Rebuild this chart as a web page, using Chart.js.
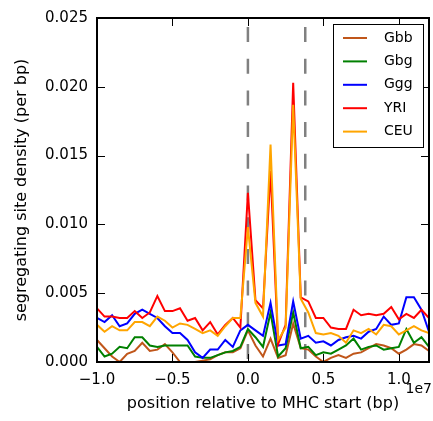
<!DOCTYPE html>
<html>
<head>
<meta charset="utf-8">
<script src="https://cdn.jsdelivr.net/npm/chart.js@4"></script>
<style>
  html, body { margin: 0; padding: 0; background: #fff; }
  #wrap { width: 433px; height: 421px; }
</style>
</head>
<body>
<div id="wrap"><canvas id="grafico" width="433" height="421"></canvas></div>
<script>
// posições (em unidades de 1e7 bp relativas ao início do MHC)
const posicoes = [
  -1.00, -0.95, -0.90, -0.85, -0.80, -0.75, -0.70, -0.65, -0.60, -0.55,
  -0.50, -0.45, -0.40, -0.35, -0.30, -0.25, -0.20, -0.15, -0.10, -0.05,
   0.00,  0.05,  0.10,  0.15,  0.20,  0.25,  0.30,  0.35,  0.40,  0.45,
   0.50,  0.55,  0.60,  0.65,  0.70,  0.75,  0.80,  0.85,  0.90,  0.95,
   1.00,  1.05,  1.10,  1.15,  1.20
];

const gbb = [
  0.0016, 0.0010, 0.0004, 0.0000, 0.0006, 0.0008, 0.0014, 0.0008, 0.0009, 0.0013,
  0.0007, 0.0000, 0.0000, 0.0000, 0.0001, 0.0002, 0.0005, 0.0007, 0.0007, 0.0010,
  0.0023, 0.0012, 0.0004, 0.0017, 0.0003, 0.0005, 0.0028, 0.0010, 0.0009, 0.0004,
  0.0000, 0.0003, 0.0005, 0.0003, 0.0006, 0.0007, 0.0010, 0.0013, 0.0012, 0.0010,
  0.0006, 0.0009, 0.0013, 0.0012, 0.0008
];
const gbg = [
  0.0011, 0.0004, 0.0006, 0.0011, 0.0010, 0.0018, 0.0018, 0.0012, 0.0011, 0.0012,
  0.0012, 0.0012, 0.0012, 0.0004, 0.0003, 0.0003, 0.0005, 0.0007, 0.0008, 0.0011,
  0.0024, 0.0018, 0.0011, 0.0036, 0.0004, 0.0010, 0.0036, 0.0010, 0.0011, 0.0005,
  0.0007, 0.0006, 0.0009, 0.0012, 0.0017, 0.0009, 0.0011, 0.0012, 0.0009, 0.0010,
  0.0011, 0.0024, 0.0014, 0.0018, 0.0011
];
const ggg = [
  0.0032, 0.0029, 0.0034, 0.0026, 0.0028, 0.0035, 0.0038, 0.0035, 0.0032, 0.0026,
  0.0021, 0.0021, 0.0016, 0.0007, 0.0003, 0.0009, 0.0009, 0.0016, 0.0011, 0.0023,
  0.0027, 0.0023, 0.0019, 0.0043, 0.0012, 0.0013, 0.0044, 0.0017, 0.0019, 0.0014,
  0.0015, 0.0012, 0.0016, 0.0018, 0.0019, 0.0017, 0.0022, 0.0024, 0.0033, 0.0027,
  0.0028, 0.0047, 0.0047, 0.0038, 0.0022
];
const yri = [
  0.0039, 0.0033, 0.0033, 0.0032, 0.0032, 0.0037, 0.0032, 0.0036, 0.0048, 0.0037,
  0.0037, 0.0039, 0.0030, 0.0032, 0.0023, 0.0029, 0.0020, 0.0027, 0.0032, 0.0025,
  0.0123, 0.0045, 0.0039, 0.0139, 0.0013, 0.0027, 0.0203, 0.0047, 0.0044, 0.0032,
  0.0032, 0.0025, 0.0024, 0.0024, 0.0038, 0.0034, 0.0035, 0.0034, 0.0035, 0.0040,
  0.0031, 0.0035, 0.0032, 0.0038, 0.0032
];
const ceu = [
  0.0027, 0.0022, 0.0026, 0.0023, 0.0023, 0.0029, 0.0029, 0.0026, 0.0033, 0.0030,
  0.0025, 0.0028, 0.0027, 0.0024, 0.0021, 0.0023, 0.0019, 0.0026, 0.0032, 0.0032,
  0.0098, 0.0043, 0.0033, 0.0158, 0.0016, 0.0025, 0.0187, 0.0046, 0.0036, 0.0021,
  0.0020, 0.0021, 0.0019, 0.0014, 0.0023, 0.0021, 0.0024, 0.0020, 0.0027, 0.0026,
  0.0020, 0.0023, 0.0026, 0.0023, 0.0021
];

const nomesSeries = ['Gbb', 'Gbg', 'Ggg', 'YRI', 'CEU'];
const coresSeries = ['#c0561a', '#008000', '#0000ff', '#ff0000', '#ffa500'];
const limitesMHC = [0, 0.38];          // linhas tracejadas
const xTicks = [-1.0, -0.5, 0.0, 0.5, 1.0];
const yTicks = [0.000, 0.005, 0.010, 0.015, 0.020, 0.025];
const escalaX = '1e7';

const FONTE = 'DejaVu Sans';

const seriesValores = [gbb, gbg, ggg, yri, ceu];

const datasets = seriesValores.map((vals, i) => ({
  label: nomesSeries[i],
  data: posicoes.map((p, j) => ({ x: p, y: vals[j] })),
  borderColor: coresSeries[i],
  backgroundColor: coresSeries[i],
  borderWidth: 2,
  pointRadius: 0,
  tension: 0,
  fill: false,
  order: nomesSeries.length - i + 1
}));

limitesMHC.forEach(x => {
  datasets.push({
    label: '_mhc',
    data: [{ x: x, y: yTicks[0] }, { x: x, y: yTicks[yTicks.length - 1] }],
    borderColor: '#808080',
    borderWidth: 2.5,
    borderDash: [15, 16.7],
    borderDashOffset: 28.7,
    pointRadius: 0,
    fill: false,
    order: 10
  });
});

// moldura, ticks para dentro, legenda e texto "1e7"
const molduraPlugin = {
  id: 'moldura',
  afterDraw(chart) {
    const { ctx, chartArea: a, scales } = chart;
    ctx.save();
    ctx.strokeStyle = '#000';
    ctx.lineWidth = 1;
    const tam = 8;
    xTicks.forEach(v => {
      const px = Math.round(scales.x.getPixelForValue(v)) + 0.5;
      ctx.beginPath();
      ctx.moveTo(px, a.bottom); ctx.lineTo(px, a.bottom - tam);
      ctx.moveTo(px, a.top); ctx.lineTo(px, a.top + tam);
      ctx.stroke();
    });
    yTicks.forEach(v => {
      const py = Math.round(scales.y.getPixelForValue(v)) + 0.5;
      ctx.beginPath();
      ctx.moveTo(a.left, py); ctx.lineTo(a.left + tam, py);
      ctx.moveTo(a.right, py); ctx.lineTo(a.right - tam, py);
      ctx.stroke();
    });
    ctx.lineWidth = 2;
    ctx.strokeRect(a.left, a.top, a.right - a.left, a.bottom - a.top);

    // legenda
    const lx = 333, ly = 24, lw = 90, lh = 123;
    ctx.fillStyle = '#fff';
    ctx.fillRect(lx, ly, lw, lh);
    ctx.lineWidth = 1;
    ctx.strokeRect(lx + 0.5, ly + 0.5, lw, lh);
    ctx.font = '14px "' + FONTE + '"';
    ctx.textBaseline = 'middle';
    ctx.textAlign = 'left';
    nomesSeries.forEach((nome, i) => {
      const y = ly + 14 + i * 23.4;
      ctx.strokeStyle = coresSeries[i];
      ctx.lineWidth = 2;
      ctx.beginPath();
      ctx.moveTo(lx + 10, y); ctx.lineTo(lx + 34, y);
      ctx.stroke();
      ctx.fillStyle = '#000';
      ctx.fillText(nome, lx + 51, y);
    });

    ctx.font = '14px "' + FONTE + '"';
    ctx.textAlign = 'right';
    ctx.fillText(escalaX, 432, 389);
    ctx.restore();
  }
};

const ctx = document.getElementById('grafico').getContext('2d');
new Chart(ctx, {
  type: 'line',
  data: { datasets },
  options: {
    responsive: false,
    animation: false,
    events: [],
    layout: { padding: { left: 0, top: 16, right: 4, bottom: 0 } },
    plugins: {
      legend: { display: false },
      tooltip: { enabled: false }
    },
    scales: {
      x: {
        type: 'linear',
        min: -1.0,
        max: 1.2,
        afterBuildTicks: s => { s.ticks = xTicks.map(v => ({ value: v })); },
        afterFit: s => { s.height = 59; },
        grid: { display: false, drawTicks: false },
        border: { display: false },
        ticks: {
          color: '#000',
          padding: 9,
          font: { family: FONTE, size: 15 },
          callback: v => (v < 0 ? '\u2212' : '') + Math.abs(v).toFixed(1)
        },
        title: {
          display: true,
          text: 'position relative to MHC start (bp)',
          color: '#000',
          font: { family: FONTE, size: 16 },
          padding: { top: 0, bottom: 8 }
        }
      },
      y: {
        min: 0,
        max: 0.025,
        afterBuildTicks: s => { s.ticks = yTicks.map(v => ({ value: v })); },
        afterFit: s => { s.width = 97; },
        grid: { display: false, drawTicks: false },
        border: { display: false },
        ticks: {
          color: '#000',
          padding: 9,
          font: { family: FONTE, size: 15 },
          callback: v => v.toFixed(3)
        },
        title: {
          display: true,
          text: 'segregating site density (per bp)',
          color: '#000',
          font: { family: FONTE, size: 16 },
          padding: { top: 12, bottom: 0 }
        }
      }
    }
  },
  plugins: [molduraPlugin]
});
</script>
</body>
</html>
